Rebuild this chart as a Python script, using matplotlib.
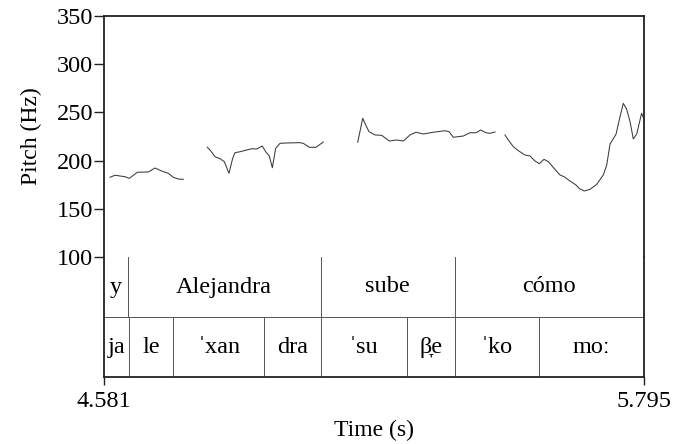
import numpy as np
import matplotlib
matplotlib.use("Agg")
import matplotlib.pyplot as plt

plt.rcParams['font.family'] = ['Liberation Serif', 'DejaVu Serif']

# pitch contour (time s, Hz), one list per voiced stretch
t1 = [4.5945, 4.6057, 4.6282, 4.6379, 4.6559, 4.6806, 4.6957, 4.7107, 4.7256, 4.7368, 4.7480, 4.7593]
f1 = [182.7, 184.8, 183.3, 181.6, 187.9, 188.2, 192.3, 189.2, 186.8, 182.7, 180.9, 180.6]

t2 = [4.8132, 4.8193, 4.8306, 4.8418, 4.8515, 4.8620, 4.8703, 4.8755, 4.8868, 4.9018, 4.9131, 4.9243,
      4.9369, 4.9445, 4.9526, 4.9594, 4.9670, 4.9767, 4.9917, 5.0216, 5.0291, 5.0426, 5.0576, 5.0740]
f2 = [213.8, 211.0, 204.0, 202.0, 198.9, 186.8, 202.4, 208.2, 209.2, 211.0, 212.3, 212.0,
      215.1, 209.2, 204.8, 192.6, 212.8, 217.9, 218.3, 218.6, 217.9, 213.8, 213.8, 219.3]

t3 = [5.1514, 5.1626, 5.1694, 5.1768, 5.1903, 5.2053, 5.2224, 5.2390, 5.2539, 5.2690, 5.2824, 5.2988,
      5.3213, 5.3476, 5.3566, 5.3663, 5.3888, 5.4038, 5.4173, 5.4279, 5.4398, 5.4488, 5.4600]
f3 = [219.0, 243.9, 236.9, 230.0, 226.6, 226.2, 220.3, 221.4, 220.3, 226.6, 229.4, 227.6,
      229.4, 231.0, 230.0, 224.2, 225.5, 228.9, 228.9, 231.7, 228.9, 228.3, 229.7]

t4 = [5.4825, 5.4900, 5.5012, 5.5124, 5.5275, 5.5387, 5.5500, 5.5596, 5.5702, 5.5799, 5.5927, 5.6062,
      5.6152, 5.6287, 5.6422, 5.6496, 5.6608, 5.6736, 5.6887, 5.7035, 5.7112, 5.7186, 5.7321, 5.7411,
      5.7485, 5.7561, 5.7636, 5.7710, 5.7786, 5.7896, 5.7950]
f4 = [226.6, 221.4, 214.4, 210.3, 205.8, 204.8, 199.6, 196.8, 201.3, 198.9, 192.0, 185.1,
      183.3, 178.8, 174.7, 170.9, 168.5, 170.2, 175.4, 185.1, 195.4, 217.2, 227.3, 245.5,
      259.4, 253.2, 240.4, 222.4, 227.6, 249.1, 242.8]

t_start, t_end = 4.581, 5.795

# text grid tiers: boundaries and labels
words_bounds = [4.581, 4.634, 5.068, 5.369, 5.795]
words = ["y", "Alejandra", "sube", "cómo"]
syl_bounds = [4.581, 4.638, 4.737, 4.941, 5.068, 5.263, 5.369, 5.560, 5.795]
syllables = ["ja", "le", "ˈxan", "dra", "ˈsu", "β̞e", "ˈko", "moː"]

fig = plt.figure(figsize=(6.74, 4.44), dpi=100)
W, H = 674, 444
ax = fig.add_axes([104 / W, (H - 257) / H, 540 / W, 241 / H])
tx = fig.add_axes([104 / W, (H - 377) / H, 540 / W, 120 / H])

dark = '#222222'
grey = '#555555'
fs = 17.5

for tt, ff in [(t1, f1), (t2, f2), (t3, f3), (t4, f4)]:
    ax.plot(tt, ff, color='#3a3a3a', lw=0.75)

ax.set_xlim(t_start, t_end)
ax.set_ylim(100, 350)
ax.set_yticks([100, 150, 200, 250, 300, 350])
ax.set_xticks([])
ax.tick_params(axis='y', direction='out', length=7, width=1, pad=1, labelsize=fs, color=dark)
for s in ['left', 'top', 'right']:
    ax.spines[s].set_color(dark)
    ax.spines[s].set_linewidth(1.3)
ax.spines['bottom'].set_color(grey)
ax.spines['bottom'].set_linewidth(0.7)
ax.set_ylabel("Pitch (Hz)", fontsize=17, labelpad=10)

tx.set_xlim(t_start, t_end)
tx.set_ylim(0, 2)
tx.set_yticks([])
tx.set_xticks([t_start, t_end])
tx.set_xticklabels(["4.581", "5.795"])
tx.tick_params(axis='x', direction='out', length=6, width=1, pad=4, labelsize=fs, color=dark)
for s in ['left', 'bottom', 'right']:
    tx.spines[s].set_color(dark)
    tx.spines[s].set_linewidth(1.3)
tx.spines['top'].set_visible(False)
tx.axhline(1, color=grey, lw=0.7)

for b in words_bounds[1:-1]:
    tx.plot([b, b], [1, 2], color=grey, lw=0.7)
for i, w in enumerate(words):
    tx.text((words_bounds[i] + words_bounds[i + 1]) / 2, 1.5, w, ha='center', va='center', fontsize=fs)

for b in syl_bounds[1:-1]:
    tx.plot([b, b], [0, 1], color=grey, lw=0.7)
for i, s in enumerate(syllables):
    tx.text((syl_bounds[i] + syl_bounds[i + 1]) / 2, 0.5, s, ha='center', va='center', fontsize=fs)

tx.set_xlabel("Time (s)", fontsize=17, labelpad=6)

fig.savefig("out.png", dpi=100)
